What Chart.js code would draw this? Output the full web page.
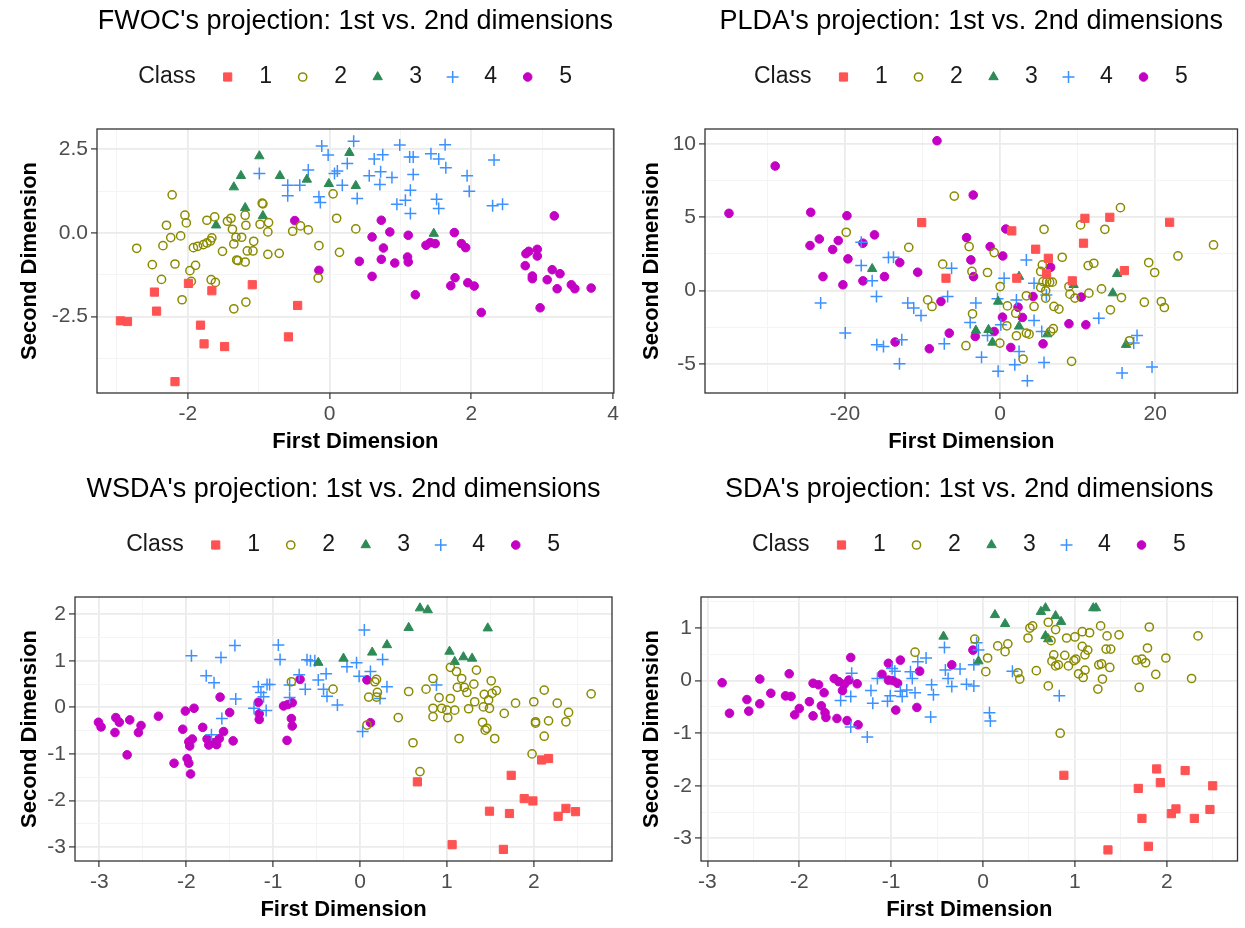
<!DOCTYPE html>
<html>
<head>
<meta charset="utf-8">
<title>Projections: 1st vs. 2nd dimensions</title>
<script src="https://cdn.jsdelivr.net/npm/chart.js"></script>
<style>
  html, body { margin: 0; padding: 0; background: #fff; }
  #page { position: relative; width: 1245px; height: 928px; }
  .panel { position: absolute; height: 460px; }
</style>
</head>
<body>
<div id="page">
  <div class="panel" style="left:0;top:0;width:622px"><canvas id="fwoc"></canvas></div>
  <div class="panel" style="left:622px;top:0;width:623px"><canvas id="plda"></canvas></div>
  <div class="panel" style="left:0;top:468px;width:622px"><canvas id="wsda"></canvas></div>
  <div class="panel" style="left:622px;top:468px;width:623px"><canvas id="sda"></canvas></div>
</div>
<script>
const classLabels = ['1', '2', '3', '4', '5'];

// FWOC projection, one array per class: [first dim, second dim]
const fwoc1 = [[-2.47,-1.77],[-2.44,-2.34],[-2.95,-2.63],[-2.85,-2.65],[-2.18,-4.45],[-1.99,-1.51],[-1.82,-2.76],[-1.77,-3.32],[-1.66,-1.73],[-1.48,-3.40],[-1.09,-1.55],[-0.45,-2.17],[-0.58,-3.11]];
const fwoc2 = [[-2.22,1.14],[-2.72,-0.46],[-2.50,-0.95],[-2.37,-1.39],[-2.30,0.23],[-2.24,-0.14],[-2.10,-0.09],[-2.18,-0.93],[-2.35,-0.38],[-2.04,0.53],[-2.02,0.30],[-2.08,-2.00],[-1.97,-1.13],[-1.89,-0.97],[-1.95,-1.45],[-1.92,-0.44],[-1.86,-0.40],[-1.78,-0.35],[-1.73,-0.30],[-1.68,-0.24],[-1.66,-0.15],[-1.73,0.38],[-1.62,0.48],[-1.67,-1.40],[-1.61,-1.48],[-1.51,-0.55],[-1.44,0.35],[-1.39,0.44],[-1.37,0.11],[-1.35,-0.33],[-1.31,-0.81],[-1.29,-0.83],[-1.32,-0.13],[-1.24,-0.13],[-1.19,0.53],[-1.18,0.23],[-1.19,-0.87],[-1.16,-0.54],[-1.08,-0.54],[-1.07,-0.25],[-1.35,-2.27],[-1.18,-2.07],[-0.98,0.26],[-0.95,0.89],[-0.94,0.87],[-0.86,0.31],[-0.87,0.03],[-0.87,-0.64],[-0.71,-0.61],[-0.52,0.05],[-0.41,0.21],[-0.30,0.09],[-0.15,-0.38],[-0.16,-1.35],[0.05,1.17],[0.10,0.44],[0.14,-0.58],[0.37,0.12]];
const fwoc3 = [[-0.99,2.30],[-1.25,1.71],[-1.35,1.37],[-1.19,0.75],[-0.94,0.51],[-1.60,0.23],[-0.70,1.71],[-0.32,1.60],[-0.01,1.47],[0.28,2.40],[0.37,1.41],[1.47,-0.02]];
const fwoc4 = [[-0.99,1.78],[-0.59,1.43],[-0.59,1.11],[-0.42,1.43],[-0.30,1.88],[-0.15,1.08],[-0.13,0.91],[-0.11,2.60],[-0.02,2.33],[0.07,1.78],[0.11,1.85],[0.25,2.08],[0.18,1.43],[0.34,2.74],[0.39,1.03],[0.99,2.63],[0.63,2.21],[0.75,2.34],[1.13,2.27],[1.18,2.27],[1.43,2.37],[1.63,2.64],[1.54,2.21],[1.64,1.95],[0.56,1.71],[0.72,1.83],[0.71,1.45],[0.88,1.66],[1.18,1.75],[1.14,1.28],[0.95,0.86],[1.07,0.98],[1.14,0.58],[1.51,1.01],[1.54,0.73],[1.94,1.71],[1.97,1.25],[2.32,2.18],[2.30,0.81],[2.44,0.86]];
const fwoc5 = [[-0.49,0.37],[-0.15,-1.12],[0.73,0.38],[0.60,-0.12],[0.85,0.03],[1.11,-0.07],[0.76,-0.45],[0.42,-0.85],[0.73,-0.79],[0.92,-0.90],[1.10,-0.72],[1.11,-0.87],[0.60,-1.30],[1.21,-1.85],[1.36,-0.37],[1.42,-0.29],[1.49,-0.32],[1.76,0.01],[1.86,-0.32],[1.92,-0.44],[1.77,-1.34],[1.71,-1.58],[1.95,-1.49],[2.04,-1.59],[2.14,-2.38],[3.17,0.51],[2.77,-0.62],[2.81,-0.55],[2.93,-0.49],[2.93,-0.69],[2.76,-0.98],[2.86,-1.29],[2.86,-1.37],[3.07,-1.40],[3.14,-1.10],[3.25,-1.22],[3.21,-1.67],[3.41,-1.55],[3.46,-1.67],[3.69,-1.65],[2.97,-2.24]];

// PLDA projection
const plda1 = [[-10.11,4.64],[-6.98,0.84],[1.50,4.07],[4.58,2.82],[6.21,2.20],[5.98,1.14],[2.14,0.84],[9.30,0.66],[10.93,4.93],[14.14,5.00],[10.75,3.23],[16.02,1.36],[21.85,4.66]];
const plda2 = [[-19.84,3.98],[-11.78,2.95],[-7.41,1.80],[-9.34,-0.64],[-8.78,-1.09],[-5.91,6.45],[-4.00,3.00],[-0.77,2.59],[-3.64,1.30],[-1.63,1.23],[0.00,0.27],[0.94,-1.05],[2.01,-1.55],[0.86,-2.41],[-0.04,-3.59],[-4.41,-3.77],[-3.56,-1.59],[2.10,-3.09],[2.96,-4.68],[3.38,-2.91],[3.73,-2.98],[4.37,-1.09],[3.38,-0.36],[5.23,0.20],[5.53,0.61],[6.00,0.61],[6.38,0.57],[6.73,0.57],[5.87,-0.02],[5.87,-0.52],[5.44,1.75],[5.23,1.30],[5.66,4.18],[8.00,2.27],[8.87,0.27],[9.00,-0.25],[9.64,-0.52],[6.94,-1.09],[7.58,-1.27],[6.85,-2.61],[6.51,-2.80],[9.21,-4.84],[11.35,1.70],[12.08,1.86],[10.37,4.48],[13.50,4.18],[15.51,5.66],[11.44,-0.18],[13.07,0.11],[14.22,-1.32],[15.64,-0.48],[16.67,-3.43],[18.59,-0.80],[19.15,1.91],[19.92,1.23],[20.78,-0.75],[21.17,-1.16],[22.92,2.36],[27.51,3.11]];
const plda3 = [[-16.50,1.48],[2.44,0.95],[9.47,0.39],[15.08,1.14],[14.52,-0.18],[-0.26,-0.75],[-3.13,-2.73],[-1.50,-2.68],[-0.99,-3.55],[2.44,-2.45],[6.08,-2.98],[16.23,-3.70]];
const plda4 = [[-17.91,3.30],[-17.91,1.70],[-16.50,0.66],[-15.94,-0.41],[-14.40,2.25],[-13.75,2.27],[-23.14,-0.86],[-19.97,-2.91],[-15.90,-3.70],[-15.04,-3.82],[-12.68,-3.36],[-12.98,-5.00],[-11.91,-0.86],[-11.14,-1.20],[-10.20,-1.70],[-7.20,-3.64],[-6.77,-0.41],[-6.26,1.52],[3.38,2.09],[0.51,0.84],[4.37,0.50],[-3.13,-0.86],[-0.34,-0.57],[2.10,-0.64],[-3.86,-2.18],[0.09,-2.34],[-1.63,-3.07],[4.37,-2.05],[5.36,-2.80],[5.96,-0.30],[-2.40,-4.55],[-0.26,-5.52],[1.89,-5.07],[5.66,-4.91],[3.51,-6.16],[2.44,-4.16],[12.72,-1.89],[15.72,-5.64],[17.65,-3.07],[17.22,-3.59],[19.58,-5.23]];
const plda5 = [[-34.96,5.27],[-29.00,8.50],[-24.42,5.34],[-24.51,3.07],[-23.31,3.52],[-20.87,3.41],[-21.59,2.80],[-19.75,5.11],[-19.62,2.16],[-22.84,0.95],[-20.27,0.39],[-17.69,0.66],[-17.69,3.23],[-16.20,3.80],[-14.91,0.95],[-12.94,1.91],[-10.63,1.25],[-8.14,10.23],[-13.54,-3.52],[-9.13,-3.98],[-7.63,-0.75],[-6.56,-2.91],[-3.47,6.52],[0.73,4.20],[-4.33,3.61],[-1.29,3.00],[-3.77,2.09],[-3.43,0.95],[0.34,2.36],[6.51,1.59],[-3.21,-3.14],[2.31,-1.14],[0.30,-1.82],[2.87,-1.84],[4.24,-0.41],[1.37,-3.89],[5.53,-3.64],[8.87,-2.27],[11.05,-2.34],[10.45,-0.45],[-0.77,-2.80]];

// WSDA projection
const wsda1 = [[0.66,-1.60],[1.06,-2.95],[1.49,-2.23],[1.65,-3.05],[1.72,-2.28],[1.74,-1.46],[1.89,-1.96],[1.99,-2.01],[2.09,-1.13],[2.17,-1.10],[2.28,-2.34],[2.37,-2.17],[2.48,-2.24]];
const wsda2 = [[-0.79,0.55],[-0.31,0.39],[0.19,0.60],[0.17,0.55],[0.10,0.22],[0.19,0.22],[0.20,0.32],[0.08,-0.38],[0.56,0.34],[0.44,-0.22],[0.61,-0.76],[0.69,-1.38],[0.76,0.39],[0.84,0.62],[0.84,-0.02],[0.84,-0.20],[0.91,0.21],[0.94,-0.02],[1.01,-0.22],[1.00,-0.06],[1.04,0.86],[1.04,0.19],[1.09,-0.06],[1.11,0.77],[1.12,0.43],[1.14,-0.67],[1.17,0.62],[1.20,0.43],[1.23,0.32],[1.25,-0.03],[1.31,0.50],[1.32,0.12],[1.34,0.80],[1.41,-0.32],[1.44,-0.49],[1.46,-0.45],[1.43,0.28],[1.42,0.01],[1.48,0.16],[1.49,-0.02],[1.51,0.57],[1.52,0.30],[1.57,0.36],[1.55,-0.67],[1.66,-0.13],[1.79,0.09],[2.00,0.12],[2.02,-0.31],[2.02,-0.34],[2.12,0.37],[2.17,-0.29],[2.12,-0.62],[2.27,0.09],[2.37,-0.31],[2.40,-0.11],[2.66,0.29],[1.98,-1.00]];
const wsda3 = [[-0.48,0.96],[-0.19,1.05],[0.69,2.13],[0.78,2.09],[0.56,1.71],[1.47,1.70],[0.31,1.34],[0.14,1.18],[1.03,1.20],[1.09,0.98],[1.19,1.08],[1.29,1.05]];
const wsda4 = [[-1.94,1.11],[-1.60,1.07],[-1.44,1.33],[-0.94,1.34],[-0.92,1.03],[-1.77,0.68],[-1.68,0.53],[-1.43,0.18],[-1.59,-0.24],[-1.71,-0.59],[-1.17,0.44],[-1.14,0.32],[-1.11,0.23],[-1.07,0.49],[-1.04,0.49],[-1.22,-0.02],[-1.08,-0.07],[-0.81,0.48],[-0.81,0.21],[-0.63,0.39],[-0.61,1.02],[-0.57,1.00],[-0.52,1.00],[-0.48,0.59],[-0.39,0.72],[-0.42,0.39],[-0.38,0.24],[-0.26,0.05],[-0.15,0.87],[-0.70,0.70],[0.05,1.66],[-0.04,0.96],[-0.01,0.67],[0.12,0.77],[0.26,1.03],[0.31,0.44],[0.23,0.19],[0.03,-0.52],[0.88,0.48]];
const wsda5 = [[-3.01,-0.32],[-2.98,-0.42],[-2.81,-0.22],[-2.77,-0.32],[-2.82,-0.54],[-2.65,-0.27],[-2.52,-0.39],[-2.55,-0.54],[-2.68,-1.02],[-2.32,-0.19],[-2.14,-1.20],[-2.04,-0.47],[-2.01,-0.08],[-1.91,-0.02],[-1.99,-1.10],[-1.97,-1.20],[-1.95,-1.43],[-1.97,-0.74],[-1.93,-0.68],[-1.96,-0.83],[-1.81,-0.43],[-1.76,-0.68],[-1.74,-0.81],[-1.68,-0.76],[-1.65,-0.80],[-1.61,0.22],[-1.50,-0.11],[-1.57,-0.52],[-1.62,-0.67],[-1.46,-0.72],[-1.17,0.11],[-1.16,-0.14],[-1.16,-0.26],[-0.84,-0.71],[-0.88,0.03],[-0.83,0.06],[-0.78,0.10],[-0.79,-0.24],[-0.78,-0.40],[-0.69,0.60],[0.08,0.59],[0.12,-0.33]];

// SDA projection
const sda1 = [[0.88,-1.80],[1.89,-1.68],[2.20,-1.71],[1.93,-1.94],[1.69,-2.05],[2.50,-2.00],[1.73,-2.62],[2.05,-2.53],[2.10,-2.44],[2.30,-2.62],[2.47,-2.45],[1.36,-3.22],[1.80,-3.15]];
const sda2 = [[-0.74,0.54],[-0.09,0.79],[0.03,0.17],[0.05,0.43],[0.16,0.66],[0.24,0.55],[0.27,0.70],[0.38,0.15],[0.40,0.03],[0.49,0.81],[0.51,1.00],[0.54,1.04],[0.58,0.19],[0.71,-0.10],[0.71,1.11],[0.74,0.76],[0.79,0.97],[0.77,0.49],[0.75,0.37],[0.79,0.28],[0.82,0.30],[0.89,0.48],[0.91,0.81],[0.93,0.28],[1.00,0.83],[0.99,0.38],[1.01,0.41],[1.04,0.13],[1.08,0.65],[1.09,0.06],[1.11,0.20],[1.11,0.49],[1.14,0.58],[1.08,0.93],[1.16,0.91],[1.25,-0.16],[1.26,0.30],[1.29,0.32],[1.30,0.03],[1.28,1.04],[1.35,0.85],[1.34,0.60],[1.39,0.60],[1.38,0.25],[1.48,0.87],[1.67,0.39],[1.73,0.41],[1.77,0.34],[1.70,-0.13],[1.79,0.62],[1.81,1.02],[1.88,0.12],[1.99,0.43],[2.27,0.04],[2.34,0.85],[0.84,-1.00]];
const sda3 = [[-0.43,0.84],[0.13,1.25],[0.24,1.08],[-0.05,0.37],[0.63,1.31],[0.68,1.38],[0.79,1.23],[0.85,1.12],[0.68,0.85],[0.71,0.79],[1.20,1.38],[1.23,1.38]];
const sda4 = [[-1.43,0.14],[-1.44,-0.30],[-1.55,-0.38],[-1.26,-1.07],[-1.44,-0.88],[-1.22,-0.19],[-1.20,-0.43],[-1.15,0.04],[-1.04,-0.39],[-1.01,-0.29],[-0.99,0.23],[-0.96,0.18],[-0.90,-0.20],[-0.88,-0.30],[-0.83,-0.18],[-0.77,0.04],[-0.79,0.17],[-0.74,-0.23],[-0.71,0.36],[-0.62,0.43],[-0.56,-0.08],[-0.54,-0.27],[-0.57,-0.69],[-0.42,0.63],[-0.41,0.20],[-0.38,0.04],[-0.34,-0.11],[-0.07,0.72],[-0.05,0.58],[-0.10,0.30],[-0.25,0.22],[-0.18,-0.07],[-0.10,-0.10],[0.32,0.18],[0.83,-0.29],[0.07,-0.61],[0.08,-0.77]];
const sda5 = [[-2.84,-0.04],[-2.76,-0.62],[-2.57,-0.36],[-2.55,-0.58],[-2.43,0.03],[-2.43,-0.44],[-2.31,-0.24],[-2.11,0.13],[-2.15,-0.29],[-2.09,-0.30],[-2.00,-0.53],[-2.05,-0.65],[-1.89,-0.40],[-1.85,-0.05],[-1.79,-0.08],[-1.73,-0.23],[-1.85,-0.67],[-1.76,-0.48],[-1.72,-0.61],[-1.71,-0.70],[-1.59,-0.72],[-1.48,-0.76],[-1.36,-0.84],[-1.62,0.04],[-1.57,-0.02],[-1.53,-0.19],[-1.51,-0.07],[-1.46,0.01],[-1.37,-0.06],[-1.44,0.44],[-1.10,0.12],[-1.03,0.33],[-1.03,0.01],[-0.98,0.00],[-0.93,-0.05],[-0.90,0.39],[-0.95,-0.56],[-0.72,-0.51],[-0.69,0.18],[-0.34,0.30],[-0.11,0.58]];

// axis limits and breaks
const fwocXRange = [-3.28, 4.01], fwocYRange = [-4.79, 3.11];
const fwocXTicks = [-2, 0, 2, 4], fwocXLabels = ['-2', '0', '2', '4'], fwocXMinor = [-3, -1, 1, 3];
const fwocYTicks = [-2.5, 0, 2.5], fwocYLabels = ['-2.5', '0.0', '2.5'], fwocYMinor = [-3.75, -1.25, 1.25];

const pldaXRange = [-38.05, 30.6], pldaYRange = [-7.0, 11.03];
const pldaXTicks = [-20, 0, 20], pldaXLabels = ['-20', '0', '20'], pldaXMinor = [-30, -10, 10, 30];
const pldaYTicks = [-5, 0, 5, 10], pldaYLabels = ['-5', '0', '5', '10'], pldaYMinor = [-2.5, 2.5, 7.5];

const wsdaXRange = [-3.28, 2.9], wsdaYRange = [-3.30, 2.37];
const wsdaXTicks = [-3, -2, -1, 0, 1, 2], wsdaXLabels = ['-3', '-2', '-1', '0', '1', '2'], wsdaXMinor = [-2.5, -1.5, -0.5, 0.5, 1.5, 2.5];
const wsdaYTicks = [-3, -2, -1, 0, 1, 2], wsdaYLabels = ['-3', '-2', '-1', '0', '1', '2'], wsdaYMinor = [-2.5, -1.5, -0.5, 0.5, 1.5];

const sdaXRange = [-3.07, 2.77], sdaYRange = [-3.43, 1.59];
const sdaXTicks = [-3, -2, -1, 0, 1, 2], sdaXLabels = ['-3', '-2', '-1', '0', '1', '2'], sdaXMinor = [-2.5, -1.5, -0.5, 0.5, 1.5, 2.5];
const sdaYTicks = [-3, -2, -1, 0, 1], sdaYLabels = ['-3', '-2', '-1', '0', '1'], sdaYMinor = [-2.5, -1.5, -0.5, 0.5, 1.5];

const FONT = '"Liberation Sans", Arial, Helvetica, sans-serif';
Chart.defaults.font.family = FONT;

// shape and colour for each class
const classStyle = [
    { pointStyle: 'rect',     color: '#FF5252', fill: '#FF5252', radius: 5.8, width: 1 },
    { pointStyle: 'circle',   color: '#8B8B00', fill: 'rgba(0,0,0,0)', radius: 4.1, width: 1.5 },
    { pointStyle: 'triangle', color: '#2E8B57', fill: '#2E8B57', radius: 5.4, width: 1 },
    { pointStyle: 'cross',    color: '#3C91FF', fill: '#3C91FF', radius: 6, width: 1.5 },
    { pointStyle: 'circle',   color: '#C400C4', fill: '#C400C4', radius: 4.3, width: 1 }
];

// "Class" key above the panel plus the dark panel frame
const panelDecor = {
    id: 'panelDecor',
    afterDatasetsDraw(chart) {
        const { ctx, chartArea: a } = chart;
        ctx.save();
        ctx.strokeStyle = '#333333';
        ctx.lineWidth = 1.3;
        ctx.strokeRect(a.left, a.top, a.right - a.left, a.bottom - a.top);
        ctx.restore();
    },
    afterDraw(chart) {
        const { ctx, chartArea: a } = chart;
        const y = a.top - 52;
        ctx.save();
        ctx.font = '23px ' + FONT;
        ctx.textBaseline = 'middle';
        const w = ctx.measureText('Class').width;
        const total = w + 32 + 4 * 75 + 38 + 7;
        let x = (a.left + a.right) / 2 - total / 2;
        ctx.fillStyle = '#1a1a1a';
        ctx.textAlign = 'left';
        ctx.fillText('Class', x, y);
        let sx = x + w + 32;
        chart.data.datasets.forEach(ds => {
            ctx.fillStyle = ds.backgroundColor;
            ctx.strokeStyle = ds.borderColor;
            ctx.lineWidth = ds.borderWidth;
            Chart.helpers.drawPoint(ctx, {
                pointStyle: ds.pointStyle, radius: ds.pointRadius,
                rotation: 0, borderWidth: ds.borderWidth
            }, sx, y);
            ctx.fillStyle = '#1a1a1a';
            ctx.textAlign = 'center';
            ctx.fillText(ds.label, sx + 38, y);
            sx += 75;
        });
        ctx.restore();
    }
};

function axis(range, major, minor, labels, text, isX, size) {
    const all = major.concat(minor).sort((p, q) => p - q);
    const isMajor = c => c.tick && major.includes(c.tick.value);
    return {
        type: 'linear',
        min: range[0],
        max: range[1],
        afterBuildTicks: s => { s.ticks = all.map(v => ({ value: v })); },
        afterFit: s => { if (isX) s.height = size; else s.width = size; },
        border: { display: false },
        grid: {
            color: c => isMajor(c) ? '#EBEBEB' : '#F3F3F3',
            lineWidth: c => isMajor(c) ? 1.8 : 0.9,
            drawTicks: true,
            tickLength: 6,
            tickColor: c => isMajor(c) ? '#333333' : 'rgba(0,0,0,0)',
            tickWidth: 1.2
        },
        ticks: {
            autoSkip: false,
            maxRotation: 0,
            padding: 3,
            color: '#4D4D4D',
            font: { size: 21 },
            callback: v => { const i = major.indexOf(v); return i < 0 ? '' : labels[i]; }
        },
        title: {
            display: true,
            text: text,
            color: '#000',
            font: { size: 22, weight: 'bold' },
            padding: isX ? { top: 0, bottom: 5 } : { top: 17, bottom: 0 }
        }
    };
}

function makePanel(id, title, series, xr, yr, xt, xl, xm, yt, yl, ym, left, padRight) {
    const datasets = series.map((pts, i) => {
        const st = classStyle[i];
        return {
            label: classLabels[i],
            data: pts.map(p => ({ x: p[0], y: p[1] })),
            pointStyle: st.pointStyle,
            pointRadius: st.radius,
            pointHoverRadius: st.radius,
            backgroundColor: st.fill,
            borderColor: st.color,
            borderWidth: st.width,
            pointBorderWidth: st.width
        };
    });
    new Chart(document.getElementById(id), {
        type: 'scatter',
        data: { datasets },
        options: {
            responsive: true,
            maintainAspectRatio: false,
            animation: false,
            layout: { padding: { left: 0, right: padRight, top: 0, bottom: 0 } },
            scales: {
                x: axis(xr, xt, xm, xl, 'First Dimension', true, 67),
                y: axis(yr, yt, ym, yl, 'Second Dimension', false, left)
            },
            plugins: {
                legend: { display: false },
                tooltip: { enabled: false },
                title: {
                    display: true,
                    text: title,
                    fullSize: false,
                    color: '#000',
                    font: { size: 27, weight: 'normal' },
                    padding: { top: 5, bottom: 91.6 }
                }
            }
        },
        plugins: [panelDecor]
    });
}

makePanel('fwoc', "FWOC's projection: 1st vs. 2nd dimensions",
    [fwoc1, fwoc2, fwoc3, fwoc4, fwoc5], fwocXRange, fwocYRange,
    fwocXTicks, fwocXLabels, fwocXMinor, fwocYTicks, fwocYLabels, fwocYMinor, 97, 8);
makePanel('plda', "PLDA's projection: 1st vs. 2nd dimensions",
    [plda1, plda2, plda3, plda4, plda5], pldaXRange, pldaYRange,
    pldaXTicks, pldaXLabels, pldaXMinor, pldaYTicks, pldaYLabels, pldaYMinor, 83, 6);
makePanel('wsda', "WSDA's projection: 1st vs. 2nd dimensions",
    [wsda1, wsda2, wsda3, wsda4, wsda5], wsdaXRange, wsdaYRange,
    wsdaXTicks, wsdaXLabels, wsdaXMinor, wsdaYTicks, wsdaYLabels, wsdaYMinor, 75, 10);
makePanel('sda', "SDA's projection: 1st vs. 2nd dimensions",
    [sda1, sda2, sda3, sda4, sda5], sdaXRange, sdaYRange,
    sdaXTicks, sdaXLabels, sdaXMinor, sdaYTicks, sdaYLabels, sdaYMinor, 79, 6);
</script>
</body>
</html>
